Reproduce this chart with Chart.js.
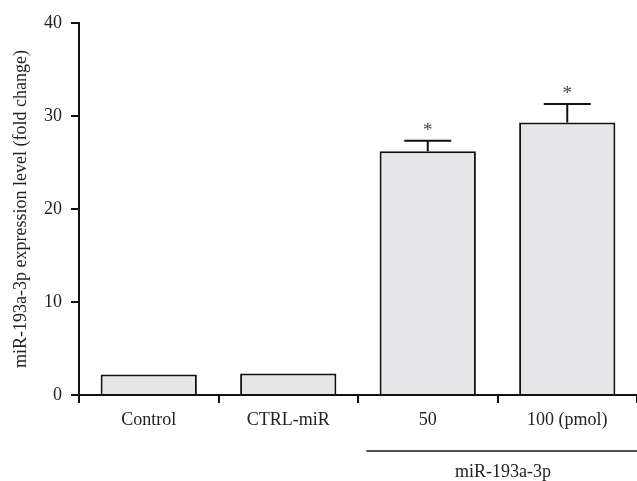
<!DOCTYPE html>
<html>
<head>
<meta charset="utf-8">
<script src="https://cdn.jsdelivr.net/npm/chart.js@4"></script>
<style>
  html, body { margin: 0; padding: 0; background: #fff; }
  #wrap { width: 637px; height: 481px; }
</style>
</head>
<body>
<div id="wrap"><canvas id="chart"></canvas></div>
<script>
'use strict';

const categories = ['Control', 'CTRL-miR', '50', '100 (pmol)'];
const expression = [2.2, 2.3, 26.2, 29.3];
const errors = [0, 0, 1.15, 2.0];
const marks = ['', '', '*', '*'];
const yTicks = [0, 10, 20, 30, 40];
const groupLabel = 'miR-193a-3p';
const groupStart = 2;

const FONT = '"Liberation Serif", "Times New Roman", serif';

// error bars, asterisks and the bracket under the treated groups
const extras = {
  id: 'extras',
  afterDatasetsDraw(chart) {
    const ctx = chart.ctx;
    const x = chart.scales.x;
    const y = chart.scales.y;
    ctx.save();
    ctx.strokeStyle = '#111';
    ctx.lineWidth = 2;
    for (let i = 0; i < expression.length; i++) {
      const cx = x.getPixelForValue(i);
      if (errors[i] > 0) {
        const top = y.getPixelForValue(expression[i] + errors[i]);
        const base = y.getPixelForValue(expression[i]);
        ctx.beginPath();
        ctx.moveTo(cx, base);
        ctx.lineTo(cx, top);
        ctx.moveTo(cx - 23.5, top);
        ctx.lineTo(cx + 23.5, top);
        ctx.stroke();
      }
      if (marks[i]) {
        const top = y.getPixelForValue(expression[i] + errors[i]);
        ctx.fillStyle = '#444';
        ctx.font = '19px ' + FONT;
        ctx.textAlign = 'center';
        ctx.textBaseline = 'middle';
        ctx.fillText(marks[i], cx, top - 10);
      }
    }
    // bracket
    const w = x.getPixelForValue(1) - x.getPixelForValue(0);
    const x0 = x.getPixelForValue(groupStart) - w * 0.44;
    const x1 = chart.width;
    const ly = chart.chartArea.bottom + 56;
    ctx.lineWidth = 1.5;
    ctx.beginPath();
    ctx.moveTo(x0, ly);
    ctx.lineTo(x1, ly);
    ctx.stroke();
    ctx.fillStyle = '#222';
    ctx.font = '18px ' + FONT;
    ctx.textAlign = 'center';
    ctx.textBaseline = 'middle';
    ctx.fillText(groupLabel, 503, ly + 21);
    ctx.restore();
  }
};

new Chart(document.getElementById('chart'), {
  type: 'bar',
  data: {
    labels: categories,
    datasets: [{
      data: expression,
      backgroundColor: '#e6e6e8',
      borderColor: '#111',
      borderWidth: 2,
      categoryPercentage: 1,
      barPercentage: 0.69
    }]
  },
  options: {
    responsive: true,
    maintainAspectRatio: false,
    animation: false,
    layout: { padding: { top: 23, right: -12, left: 0, bottom: 0 } },
    plugins: {
      legend: { display: false },
      tooltip: { enabled: false }
    },
    scales: {
      x: {
        offset: true,
        afterFit(s) { s.height = 86; },
        grid: {
          offset: true,
          drawOnChartArea: false,
          tickLength: 8,
          color: '#111',
          lineWidth: 2
        },
        border: { display: true, color: '#111', width: 2 },
        ticks: {
          color: '#222',
          padding: 6,
          font: { family: FONT, size: 18 }
        }
      },
      y: {
        min: 0,
        max: 40,
        afterFit(s) { s.width = 79; },
        afterBuildTicks(s) { s.ticks = yTicks.map(v => ({ value: v })); },
        grid: {
          drawOnChartArea: false,
          tickLength: 8,
          color: '#111',
          lineWidth: 2
        },
        border: { display: true, color: '#111', width: 2 },
        ticks: {
          color: '#222',
          padding: 9,
          font: { family: FONT, size: 18 }
        },
        title: {
          display: true,
          text: 'miR-193a-3p expression level (fold change)',
          color: '#222',
          padding: { top: 10, bottom: 0 },
          font: { family: FONT, size: 18 }
        }
      }
    }
  },
  plugins: [extras]
});
</script>
</body>
</html>
